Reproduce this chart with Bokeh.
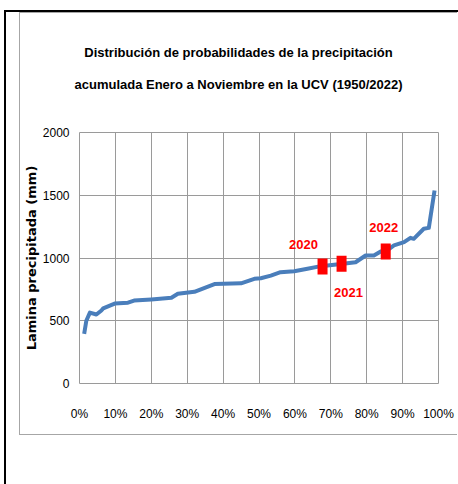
from bokeh.plotting import figure
from bokeh.layouts import column
from bokeh.models import ColumnDataSource, Div, FixedTicker, NumeralTickFormatter, Range1d
from bokeh.core.properties import value
from bokeh.embed import file_html
from bokeh.resources import INLINE

# ---- data ----
prob = [0.013, 0.019, 0.029, 0.047, 0.061, 0.066, 0.098, 0.135, 0.152, 0.200, 0.256,
        0.274, 0.320, 0.376, 0.450, 0.487, 0.505, 0.533, 0.560, 0.598, 0.635, 0.672,
        0.728, 0.769, 0.797, 0.820, 0.839, 0.857, 0.876, 0.904, 0.922, 0.931, 0.959,
        0.973, 0.989]
lamina = [396, 500, 565, 550, 582, 598, 637, 644, 661, 670, 683,
          715, 731, 792, 798, 834, 839, 860, 887, 895, 914, 935,
          953, 966, 1020, 1020, 1052, 1060, 1100, 1126, 1161, 1153, 1233,
          1240, 1538]

years = ["2020", "2021", "2022"]
year_prob = [0.677, 0.730, 0.853]
year_lamina = [932, 954, 1052]

x_ticks = [0.0, 0.1, 0.2, 0.3, 0.4, 0.5, 0.6, 0.7, 0.8, 0.9, 1.0]
y_ticks = [0, 500, 1000, 1500, 2000]

title_1 = "Distribución de probabilidades de la precipitación"
title_2 = "acumulada Enero a Noviembre en la UCV (1950/2022)"
y_title = "Lamina precipitada (mm)"

# ---- styles ----
FONT = "'Liberation Sans', Arial, sans-serif"
LINE_BLUE = "#4A7EBB"
GRID = "#9a9a9a"
FRAME_GRAY = "1px solid #a6a6a6"

title_div = Div(
    text=(f'<div style="display:block;width:437px;text-align:center;font-family:{FONT};'
          f'font-weight:bold;font-size:13px;line-height:32px;padding-top:24px;color:#000;'
          f'white-space:nowrap">{title_1}<br>{title_2}</div>'),
    width=437, height=99, margin=0, styles={"width": "437px", "text-align": "center"})

p = figure(width=437, height=322, output_backend="svg", toolbar_location=None,
           x_range=Range1d(0, 1), y_range=Range1d(0, 2000), title=None,
           min_border_left=58, min_border_right=19, min_border_top=20, min_border_bottom=51,
           margin=0)
p.background_fill_color = "white"
p.border_fill_color = "white"
p.outline_line_color = GRID
p.outline_line_width = 1

p.xaxis.ticker = FixedTicker(ticks=x_ticks)
p.yaxis.ticker = FixedTicker(ticks=y_ticks)
p.xaxis.formatter = NumeralTickFormatter(format="0%")
for ax in (p.xaxis, p.yaxis):
    ax.axis_line_color = None
    ax.major_tick_line_color = None
    ax.minor_tick_line_color = None
    ax.major_tick_out = 0
    ax.major_tick_in = 0
    ax.minor_tick_out = 0
    ax.minor_tick_in = 0
    ax.major_label_text_font = FONT
    ax.major_label_text_font_size = "12px"
    ax.major_label_text_color = "#000000"
p.xaxis.major_label_standoff = 23
p.yaxis.major_label_standoff = 10

p.yaxis.axis_label = y_title
p.yaxis.axis_label_text_font = "DejaVu Sans"
p.yaxis.axis_label_text_font_style = "bold"
p.yaxis.axis_label_text_font_size = "13px"
p.yaxis.axis_label_standoff = 1
p.yaxis.axis_label_text_color = "#000000"

p.xgrid.grid_line_color = GRID
p.ygrid.grid_line_color = GRID

src = ColumnDataSource(dict(x=prob, y=lamina))
p.line("x", "y", source=src, line_color=LINE_BLUE, line_width=4, line_join="round")

ysrc = ColumnDataSource(dict(x=year_prob, y=year_lamina, t=years,
                             dx=[-19, 7, -2], dy=[-22, 29, -24]))
p.rect("x", "y", width=10, height=16, width_units="screen", height_units="screen",
       source=ysrc, fill_color="#FF0000", line_color=None)
p.text("x", "y", text="t", source=ysrc, x_offset="dx", y_offset="dy",
       text_align="center", text_baseline="middle",
       text_font=value(FONT), text_font_style="bold",
       text_font_size="13px", text_color="#FF0000")

chart = column(title_div, p, margin=(0, 0, 0, 13), spacing=0,
               styles={"border-left": FRAME_GRAY, "border-top": FRAME_GRAY,
                       "border-bottom": FRAME_GRAY, "background": "white"})

page = column(chart, width=454, height=474, margin=(10, 0, 0, 4),
              styles={"border-left": "2px solid black", "border-top": "2px solid black",
                      "box-sizing": "border-box", "background": "white"})

open("out.html", "w").write(file_html(page, INLINE))
